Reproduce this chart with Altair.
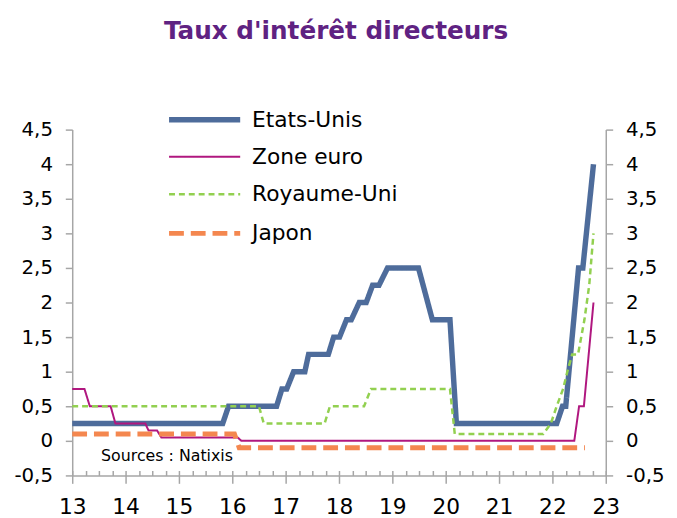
import altair as alt
import pandas as pd

# ---- data ----
series = ["Etats-Unis", "Zone euro", "Royaume-Uni", "Japon"]
colors = ["#4E6C9B", "#B0177F", "#92D050", "#F4874F"]
widths = [5.5, 2.0, 2.5, 5.0]
dashes = [[1, 0], [1, 0], [6, 4], [15, 7]]

us_x = [13.0, 15.82, 15.93, 16.83, 16.93, 17.02, 17.15, 17.36, 17.43, 17.80, 17.90,
        18.01, 18.14, 18.23, 18.38, 18.51, 18.63, 18.75, 18.91, 19.49, 19.75, 20.08,
        20.20, 22.08, 22.19, 22.25, 22.49, 22.57, 22.77]
us_y = [0.25, 0.25, 0.5, 0.5, 0.75, 0.75, 1.0, 1.0, 1.25, 1.25, 1.5,
        1.5, 1.75, 1.75, 2.0, 2.0, 2.25, 2.25, 2.5, 2.5, 1.75, 1.75,
        0.25, 0.25, 0.5, 0.5, 2.5, 2.5, 4.0]

eu_x = [13.0, 13.23, 13.33, 13.72, 13.81, 14.37, 14.43, 14.59, 14.67, 16.10, 16.17,
        22.41, 22.50, 22.59, 22.77]
eu_y = [0.75, 0.75, 0.5, 0.5, 0.25, 0.25, 0.15, 0.15, 0.05, 0.05, 0.0,
        0.0, 0.5, 0.5, 2.0]

uk_x = [13.0, 16.50, 16.59, 17.73, 17.83, 18.47, 18.60, 20.08, 20.17, 21.83, 21.97,
        22.08, 22.20, 22.28, 22.37, 22.48, 22.60, 22.69, 22.77]
uk_y = [0.5, 0.5, 0.25, 0.25, 0.5, 0.5, 0.75, 0.75, 0.1, 0.1, 0.25,
        0.5, 0.75, 1.0, 1.25, 1.25, 1.75, 2.25, 3.0]

jp_x = [13.0, 16.04, 16.13, 22.61]
jp_y = [0.1, 0.1, -0.1, -0.1]

y_ticks = [-0.5, 0, 0.5, 1, 1.5, 2, 2.5, 3, 3.5, 4, 4.5]
x_ticks = [13, 14, 15, 16, 17, 18, 19, 20, 21, 22, 23]
x_minor = [13 + i * 0.25 for i in range(41)]

note_text = ["Sources : Natixis"]
note_x = [13.54]
note_y = [-0.22]

# ---- build table ----
rows = []
for name, xs, ys in zip(series, [us_x, eu_x, uk_x, jp_x], [us_y, eu_y, uk_y, jp_y]):
    for i, (xv, yv) in enumerate(zip(xs, ys)):
        rows.append({"pays": name, "annee": xv, "taux": yv, "ordre": i})
df = pd.DataFrame(rows)
note_df = pd.DataFrame({"annee": note_x, "taux": note_y, "texte": note_text})

FONT = "DejaVu Sans"
GREY = "#A6A6A6"
x_scale = alt.Scale(domain=[13, 23], nice=False, zero=False)
y_scale = alt.Scale(domain=[-0.5, 4.5], nice=False, zero=False)
label_expr = "replace(toString(datum.value), '.', ',')"

legend = alt.Legend(
    title=None, orient="none", legendX=119, legendY=-25,
    symbolType="M-3,0H3", symbolSize=576, labelFont=FONT, labelFontSize=22,
    labelColor="black", labelOffset=33, rowPadding=13.5, padding=0,
)

lines = alt.Chart(df).mark_line(strokeCap="butt", strokeJoin="miter").encode(
    x=alt.X("annee:Q", scale=x_scale, title=None,
            axis=alt.Axis(orient="bottom", values=x_ticks, format="d", grid=False,
                          domainColor=GREY, domainWidth=1.5, tickColor=GREY, tickWidth=1.5,
                          tickSize=8, labelFont=FONT, labelFontSize=22, labelColor="black",
                          labelPadding=14, labelFlush=False)),
    y=alt.Y("taux:Q", scale=y_scale, title=None,
            axis=alt.Axis(orient="left", values=y_ticks, labelExpr=label_expr, grid=False,
                          domainColor=GREY, domainWidth=1.5, tickColor=GREY, tickWidth=1.5,
                          tickSize=7, labelPadding=13, labelFont=FONT, labelFontSize=20,
                          labelColor="black")),
    color=alt.Color("pays:N", scale=alt.Scale(domain=series, range=colors), legend=legend),
    strokeDash=alt.StrokeDash("pays:N", scale=alt.Scale(domain=series, range=dashes), legend=legend),
    strokeWidth=alt.StrokeWidth("pays:N", scale=alt.Scale(type="ordinal", domain=series, range=widths), legend=legend),
    order=alt.Order("ordre:Q"),
)

note = alt.Chart(note_df).mark_text(align="left", baseline="middle", font=FONT,
                                     fontSize=16, color="black").encode(
    x=alt.X("annee:Q", scale=x_scale, title=None,
            axis=alt.Axis(orient="bottom", values=x_minor, labels=False, domain=False,
                          grid=False, tickColor=GREY, tickWidth=1.5, tickSize=5, offset=-5)),
    y=alt.Y("taux:Q", scale=y_scale, axis=None),
    text="texte:N",
)

right = alt.Chart(df).mark_point(opacity=0, size=1).encode(
    x=alt.X("annee:Q", scale=x_scale, axis=None),
    y=alt.Y("taux:Q", scale=y_scale, title=None,
            axis=alt.Axis(orient="right", values=y_ticks, labelExpr=label_expr, grid=False,
                          domainColor=GREY, domainWidth=1.5, tickColor=GREY, tickWidth=1.5,
                          tickSize=7, labelPadding=13, labelFont=FONT, labelFontSize=20,
                          labelColor="black")),
)

chart = alt.layer(lines, note, right).resolve_scale(y="independent").resolve_axis(
    x="independent", y="independent"
).properties(
    width=540, height=350,
    title=alt.Title("Taux d'intérêt directeurs", font=FONT, fontSize=25, fontWeight="bold",
                    color="#5F2282", anchor="middle", dx=-3, dy=-58),
    autosize=alt.AutoSizeParams(type="none"),
    padding={"left": 65, "top": 120, "right": 64, "bottom": 40},
).configure_view(stroke=None)

chart.save("out.html", embed_options={"renderer": "svg", "actions": False})
